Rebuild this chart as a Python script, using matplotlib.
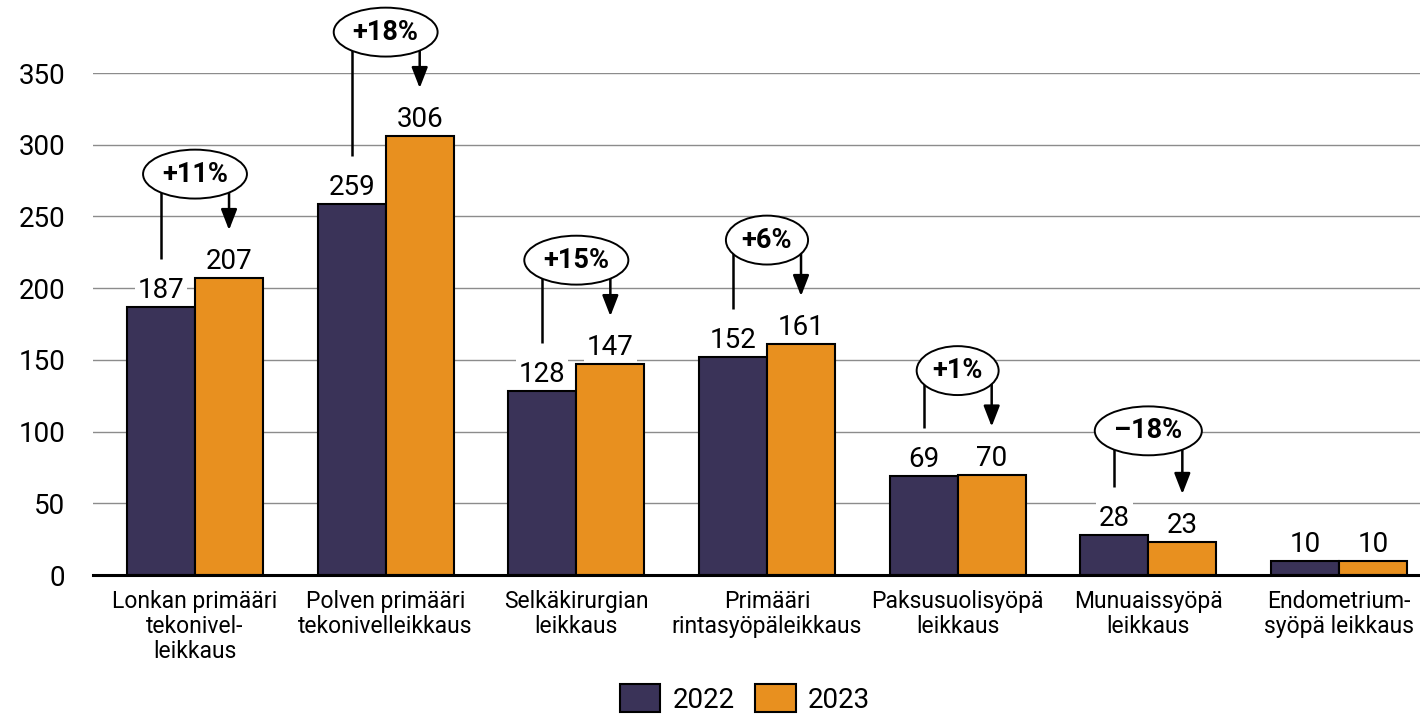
import matplotlib
matplotlib.use("Agg")
import matplotlib.pyplot as plt
from matplotlib.patches import Patch
import numpy as np

plt.rcParams['font.family'] = ['Roboto', 'DejaVu Sans']

categories = ["Lonkan primääri\ntekonivel-\nleikkaus", "Polven primääri\ntekonivelleikkaus",
              "Selkäkirurgian\nleikkaus", "Primääri\nrintasyöpäleikkaus",
              "Paksusuolisyöpä\nleikkaus", "Munuaissyöpä\nleikkaus", "Endometrium-\nsyöpä leikkaus"]
v2022 = [187, 259, 128, 152, 69, 28, 10]
v2023 = [207, 306, 147, 161, 70, 23, 10]
changes = ["+11%", "+18%", "+15%", "+6%", "+1%", "\u201318%", None]
series = ["2022", "2023"]
yticks = [0, 50, 100, 150, 200, 250, 300, 350]

c22 = "#3a3358"
c23 = "#e8901f"

W, H = 1420, 716
fig = plt.figure(figsize=(W/100, H/100), dpi=100)
ax = fig.add_axes([93/W, 1-575/H, (1420-93)/W, 502/H])
ax.set_ylim(0, 350)
ax.set_xlim(-0.535, 6.425)

x = np.arange(len(categories))
bw = 0.357
ax.bar(x - bw/2, v2022, bw, color=c22, edgecolor='black', linewidth=1.5, zorder=3)
ax.bar(x + bw/2, v2023, bw, color=c23, edgecolor='black', linewidth=1.5, zorder=3)

ax.set_yticks(yticks)
ax.set_yticklabels([str(t) for t in yticks], fontsize=20)
ax.tick_params(axis='y', length=0, pad=20)
ax.set_xticks(x)
ax.set_xticklabels(categories, fontsize=16.5, linespacing=1.1)
ax.tick_params(axis='x', length=0, pad=11)
ax.grid(axis='y', color='#8c8c8c', linewidth=1, zorder=0)
for s in ['top', 'right', 'left']:
    ax.spines[s].set_visible(False)
ax.spines['bottom'].set_linewidth(2.2)
ax.spines['bottom'].set_zorder(4)

# px -> data units
ppu = (ax.transData.transform((0, 1))[1] - ax.transData.transform((0, 0))[1])
def d(px):
    return px / ppu

for i in range(len(categories)):
    for xv, v in ((x[i]-bw/2, v2022[i]), (x[i]+bw/2, v2023[i])):
        ax.text(xv, v + d(9), str(v), ha='center', va='baseline', fontsize=20, zorder=2.5,
                bbox=dict(boxstyle='square,pad=0.1', fc='white', ec='none'))
    if changes[i] is None:
        continue
    vmax = max(v2022[i], v2023[i])
    ye = vmax + d(104)
    ax.plot([x[i]-bw/2, x[i]-bw/2], [v2022[i] + d(48), ye], color='black', lw=1.8,
            zorder=6, clip_on=False, solid_capstyle='butt')
    ax.annotate('', xy=(x[i]+bw/2, v2023[i] + d(48)), xytext=(x[i]+bw/2, ye),
                arrowprops=dict(arrowstyle='-|>,head_length=0.9,head_width=0.35', lw=1.8,
                                color='black', shrinkA=0, shrinkB=0, mutation_scale=14),
                zorder=6, annotation_clip=False)
    ax.text(x[i], ye, changes[i], ha='center', va='center', fontsize=19.5, fontweight='bold',
            zorder=7, clip_on=False,
            bbox=dict(boxstyle='ellipse,pad=0.14', fc='white', ec='black', lw=1.4))

handles = [Patch(facecolor=c22, edgecolor='black', lw=1.5),
           Patch(facecolor=c23, edgecolor='black', lw=1.5)]
fig.legend(handles, series, loc='center', bbox_to_anchor=(745/W, 1-699/H), ncol=2,
           frameon=False, fontsize=20, handlelength=1.45, handleheight=1.15,
           handletextpad=0.45, columnspacing=0.75)

fig.savefig("out.png", dpi=100)
